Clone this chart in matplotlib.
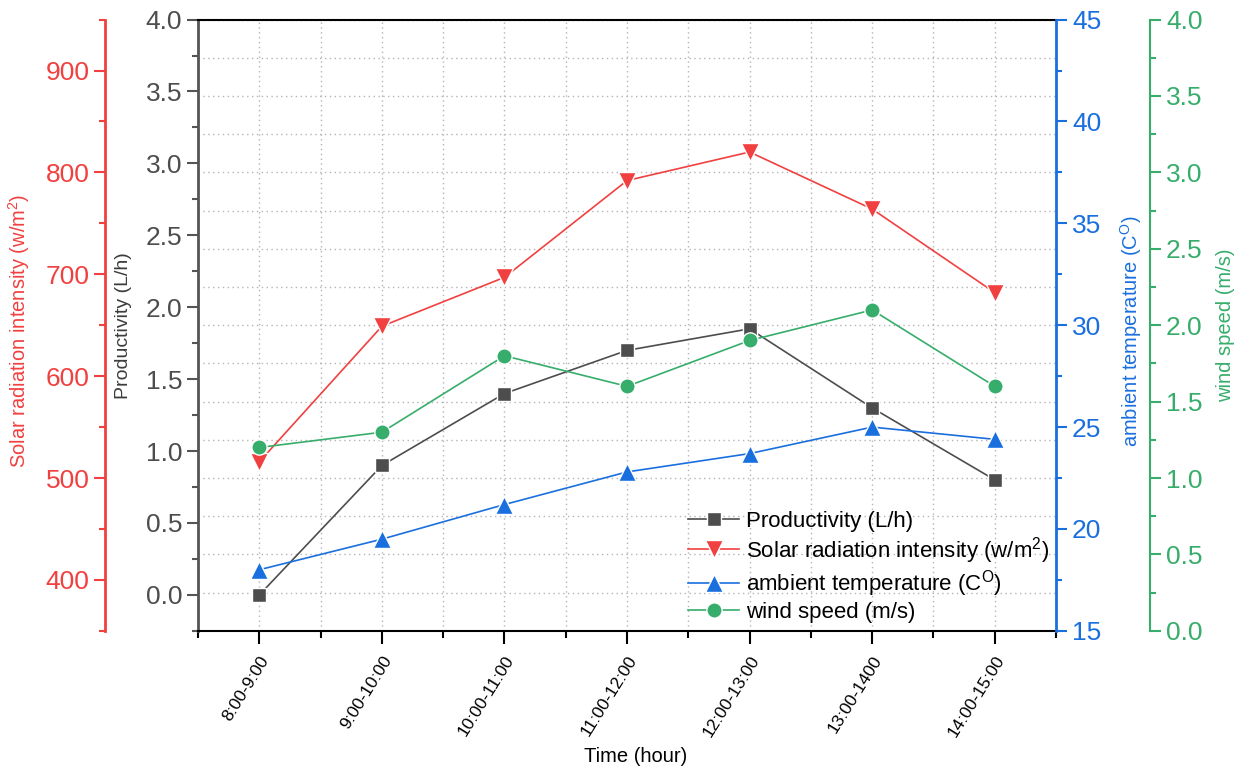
import numpy as np
import matplotlib
matplotlib.use("Agg")
import matplotlib.pyplot as plt
from matplotlib.ticker import MultipleLocator, FormatStrFormatter

plt.rcParams['font.family'] = ['Liberation Sans', 'DejaVu Sans']
plt.rcParams['mathtext.fontset'] = 'custom'
plt.rcParams['mathtext.rm'] = 'Liberation Sans'
plt.rcParams['mathtext.it'] = 'Liberation Sans:italic'

periods = ["8:00-9:00", "9:00-10:00", "10:00-11:00", "11:00-12:00",
           "12:00-13:00", "13:00-1400", "14:00-15:00"]
productivity = [0.0, 0.9, 1.4, 1.7, 1.85, 1.3, 0.8]
solar = [516, 649, 697, 792, 820, 764, 682]
temperature = [18.0, 19.5, 21.2, 22.8, 23.7, 25.0, 24.4]
wind = [1.2, 1.3, 1.8, 1.6, 1.9, 2.1, 1.6]

BLACK = "#4d4d4d"
RED = "#f14040"
BLUE = "#1a6fdf"
GREEN = "#37ad6b"

x = np.arange(len(periods))

fig = plt.figure(figsize=(12.38, 7.67), dpi=100)
rect = [0.16, 0.1775, 0.693, 0.797]

# background axes only for the dotted grid, so it stays under every series
grid_ax = fig.add_axes(rect, zorder=-1)
grid_ax.set_xlim(-0.5, 6.5)
grid_ax.set_ylim(0, 4)
grid_ax.xaxis.set_major_locator(MultipleLocator(0.5))
grid_ax.yaxis.set_major_locator(MultipleLocator(0.25))
grid_ax.grid(True, color="#b4b4b4", linestyle=(0, (1, 2.5)), linewidth=1.0)
grid_ax.tick_params(left=False, bottom=False, labelleft=False, labelbottom=False)
for s in grid_ax.spines.values():
    s.set_visible(False)

ax = fig.add_axes(rect)
ax.patch.set_visible(False)

line_kw = dict(lw=1.2, mec="white", mew=1.0)
l1, = ax.plot(x, productivity, marker="s", ms=10.5, color=BLACK, label="Productivity (L/h)", **line_kw)
ax.set_xlim(-0.5, 6.5)
ax.set_ylim(-0.25, 4.0)
ax.set_xticks(x, periods, rotation=58, ha="right", rotation_mode="anchor", fontsize=12.5)
ax.xaxis.set_minor_locator(MultipleLocator(0.5))
ax.yaxis.set_major_locator(MultipleLocator(0.5))
ax.yaxis.set_minor_locator(MultipleLocator(0.25))
ax.yaxis.set_major_formatter(FormatStrFormatter("%.1f"))
ax.tick_params(axis="y", which="major", length=8, width=1.5, labelsize=19,
               color="#555555", labelcolor="#4d4d4d")
ax.tick_params(axis="y", which="minor", length=4.5, width=1.5, color="#555555")
ax.tick_params(axis="x", which="major", length=9, width=1.5, pad=7)
ax.tick_params(axis="x", which="minor", length=5, width=1.5)
ax.spines["left"].set_color("#555555")
ax.spines["left"].set_linewidth(2)
ax.spines["top"].set_linewidth(1.5)
ax.spines["bottom"].set_linewidth(1.5)
ax.spines["right"].set_visible(False)
ax.set_ylabel("Productivity (L/h)", fontsize=14, color="#3c3c3c")
ax.yaxis.set_label_coords(-0.077, 0.5)
ax.set_xlabel("Time (hour)", fontsize=14.5)
ax.xaxis.set_label_coords(0.51, -0.19)

# solar radiation on an offset left axis
ax_sol = ax.twinx()
l2, = ax_sol.plot(x, solar, marker="v", ms=13, color=RED,
                  label="Solar radiation intensity (w/m$^{\\mathrm{2}}$)", **line_kw)
ax_sol.set_ylim(350, 950)
ax_sol.yaxis.set_ticks_position("left")
ax_sol.yaxis.set_label_position("left")
for k in ("right", "top", "bottom"):
    ax_sol.spines[k].set_visible(False)
ax_sol.spines["left"].set_visible(True)
ax_sol.spines["left"].set_position(("axes", -0.108))
ax_sol.spines["left"].set_color(RED)
ax_sol.spines["left"].set_linewidth(2)
ax_sol.yaxis.set_major_locator(MultipleLocator(100))
ax_sol.yaxis.set_minor_locator(MultipleLocator(50))
ax_sol.tick_params(axis="y", which="major", length=8, width=1.5, labelsize=19, colors=RED)
ax_sol.tick_params(axis="y", which="minor", length=4.5, width=1.5, colors=RED)
ax_sol.set_ylabel("Solar radiation intensity (w/m$^{\\mathrm{2}}$)", fontsize=14.5, color=RED)
ax_sol.yaxis.set_label_coords(-0.193, 0.49)

# ambient temperature on the frame's right edge
ax_tmp = ax.twinx()
l3, = ax_tmp.plot(x, temperature, marker="^", ms=13, color=BLUE,
                  label="ambient temperature (C$^{\\mathrm{O}}$)", **line_kw)
ax_tmp.set_ylim(15, 45)
for k in ("left", "top", "bottom"):
    ax_tmp.spines[k].set_visible(False)
ax_tmp.spines["right"].set_color(BLUE)
ax_tmp.spines["right"].set_linewidth(2)
ax_tmp.yaxis.set_major_locator(MultipleLocator(5))
ax_tmp.yaxis.set_minor_locator(MultipleLocator(2.5))
ax_tmp.tick_params(axis="y", which="major", length=8, width=1.5, labelsize=19, colors=BLUE)
ax_tmp.tick_params(axis="y", which="minor", length=4.5, width=1.5, colors=BLUE)
ax_tmp.set_ylabel("ambient temperature (C$^{\\mathrm{O}}$)", fontsize=14.5, color=BLUE)
ax_tmp.yaxis.set_label_coords(1.072, 0.49)

# wind speed on an offset right axis
ax_wnd = ax.twinx()
l4, = ax_wnd.plot(x, wind, marker="o", ms=11, color=GREEN, label="wind speed (m/s)", **line_kw)
ax_wnd.set_ylim(0, 4)
for k in ("left", "top", "bottom"):
    ax_wnd.spines[k].set_visible(False)
ax_wnd.spines["right"].set_position(("axes", 1.1096))
ax_wnd.spines["right"].set_color(GREEN)
ax_wnd.spines["right"].set_linewidth(1.5)
ax_wnd.yaxis.set_major_locator(MultipleLocator(0.5))
ax_wnd.yaxis.set_minor_locator(MultipleLocator(0.25))
ax_wnd.yaxis.set_major_formatter(FormatStrFormatter("%.1f"))
ax_wnd.tick_params(axis="y", which="major", length=8, width=1.5, labelsize=19, colors=GREEN)
ax_wnd.tick_params(axis="y", which="minor", length=4.5, width=1.5, colors=GREEN)
ax_wnd.set_ylabel("wind speed (m/s)", fontsize=14.5, color=GREEN)
ax_wnd.yaxis.set_label_coords(1.1865, 0.5)

handles = [l1, l2, l3, l4]
ax_wnd.legend(handles, [h.get_label() for h in handles], loc="upper left",
              bbox_to_anchor=(0.571, 0.196), frameon=False, fontsize=16,
              handlelength=2.3, handletextpad=0.3, labelspacing=0.12,
              borderpad=0, borderaxespad=0)

fig.savefig("out.png", dpi=100)
